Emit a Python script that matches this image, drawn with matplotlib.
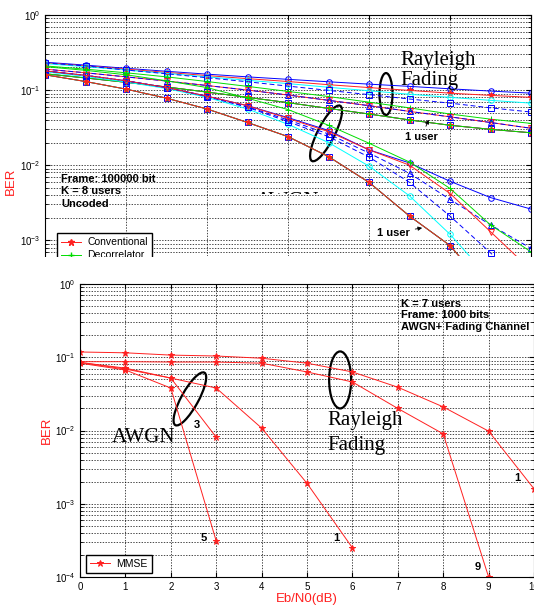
import numpy as np
import matplotlib
matplotlib.use('Agg')
import matplotlib.pyplot as plt
from matplotlib.patches import Ellipse, Rectangle
from matplotlib.transforms import ScaledTranslation, Bbox, TransformedBbox

plt.rcParams['font.family'] = ['Liberation Sans', 'DejaVu Sans']
plt.rcParams['mathtext.default'] = 'regular'

# ---- top panel: K = 8 users, uncoded, frame 100000 bit ----
snr_top = np.arange(0, 13)

# Rayleigh fading curves
ray_blue_o = [0.235, 0.215, 0.195, 0.178, 0.163, 0.150, 0.139, 0.129, 0.120, 0.112, 0.104, 0.097, 0.091]
ray_red = [0.23, 0.21, 0.19, 0.172, 0.156, 0.142, 0.130, 0.118, 0.108, 0.099, 0.091, 0.085, 0.080]
ray_cyan = [0.225, 0.205, 0.185, 0.167, 0.150, 0.135, 0.122, 0.109, 0.098, 0.088, 0.080, 0.073, 0.067]
ray_blue_sq = [0.23, 0.21, 0.185, 0.165, 0.146, 0.129, 0.113, 0.099, 0.087, 0.076, 0.067, 0.058, 0.051]
ray_green = [0.21, 0.19, 0.17, 0.15, 0.13, 0.112, 0.096, 0.082, 0.069, 0.058, 0.048, 0.041, 0.036]
ray_tri = [0.19, 0.17, 0.15, 0.132, 0.115, 0.10, 0.086, 0.073, 0.062, 0.052, 0.044, 0.037, 0.031]
ray_1user = [0.165, 0.145, 0.127, 0.11, 0.094, 0.08, 0.068, 0.057, 0.048, 0.040, 0.034, 0.030, 0.027]

# AWGN curves
awgn_1user = [0.16, 0.13, 0.103, 0.078, 0.056, 0.037, 0.024, 0.013, 0.0059, 0.0021, 0.00085, 0.0002, 0.00004]
awgn_cyan = [0.175, 0.152, 0.128, 0.105, 0.08, 0.056, 0.035, 0.020, 0.0097, 0.0039, 0.0012, 0.0003, 0.00006]
awgn_blue_o = [0.18, 0.157, 0.133, 0.108, 0.083, 0.062, 0.043, 0.029, 0.016, 0.0107, 0.0061, 0.0037, 0.0026]
awgn_green = [0.205, 0.183, 0.16, 0.133, 0.108, 0.078, 0.055, 0.034, 0.0196, 0.011, 0.0049, 0.0016, 0.0007]
awgn_red_v = [0.18, 0.157, 0.133, 0.108, 0.083, 0.062, 0.042, 0.028, 0.016, 0.010, 0.0042, 0.0013, 0.0004]
awgn_blue_tri = [0.18, 0.157, 0.133, 0.108, 0.083, 0.06, 0.04, 0.026, 0.0145, 0.0078, 0.0035, 0.0016, 0.00078]
awgn_blue_sq = [0.18, 0.157, 0.133, 0.108, 0.082, 0.059, 0.038, 0.024, 0.0128, 0.0059, 0.0021, 0.00068, 0.0002]

top_labels = ['Conventional', 'Decorrelator']

# ---- bottom panel: K = 7 users, MMSE, frame 1000 bits ----
snr_bot = np.arange(0, 11)
mmse_ray_1 = [0.118, 0.115, 0.107, 0.104, 0.097, 0.083, 0.063, 0.039, 0.021, 0.0098, 0.0016]
mmse_ray_9 = [0.087, 0.087, 0.086, 0.086, 0.083, 0.063, 0.046, 0.020, 0.0090, 0.0001]
mmse_awgn_1 = [0.085, 0.071, 0.052, 0.038, 0.0108, 0.0019, 0.00025]
mmse_awgn_3 = [0.085, 0.069, 0.052, 0.0081]
mmse_awgn_5 = [0.083, 0.067, 0.038, 0.00031]

W, H = 534, 607
fig = plt.figure(figsize=(W / 100, H / 100), dpi=100)


def px_axes(l, t, r, b):
    return fig.add_axes([l / W, 1 - b / H, (r - l) / W, (b - t) / H])


ax1 = px_axes(45, 15, 531, 256)
ax2 = px_axes(80, 284, 534, 577)
ax1.set_zorder(1)
ax2.set_zorder(2)

GRID = dict(color='k', linestyle=(0, (2, 2)), linewidth=0.5)
RED = '#ff2020'


def curve(ax, x, y, color, marker, ls='-', filled=False, label=None):
    ax.semilogy(x[:len(y)], y, color=color, ls=ls, lw=0.7, marker=marker,
                ms=4.5 if marker in '*+' else 4, mfc=color if filled else 'none',
                mec=color, mew=0.7, label=label)


def ellipse(ax, x, y, w, h, ang):
    tr = fig.dpi_scale_trans + ScaledTranslation(x, y, ax.transData)
    ax.add_patch(Ellipse((0, 0), w / 100, h / 100, angle=ang, transform=tr,
                         fill=False, ec='k', lw=1.6, clip_on=False))


# ---------------- top panel ----------------
x = snr_top
curve(ax1, x, ray_blue_o, 'blue', 'o')
curve(ax1, x, ray_red, RED, '*', filled=True)
curve(ax1, x, ray_cyan, 'cyan', 'o')
curve(ax1, x, ray_blue_sq, 'blue', 's', ls=(0, (5, 3)))
curve(ax1, x, ray_green, '#00dd00', '+')
curve(ax1, x, ray_tri, RED, 'v')
curve(ax1, x, ray_tri, 'blue', '^', ls=(0, (5, 3)))
curve(ax1, x, ray_1user, 'blue', 's')
curve(ax1, x, ray_1user, RED, '*', filled=True)
curve(ax1, x, ray_1user, '#00dd00', '+')

curve(ax1, x, awgn_blue_o, 'blue', 'o')
curve(ax1, x, awgn_cyan, 'cyan', 'o')
curve(ax1, x, awgn_blue_sq, 'blue', 's', ls=(0, (5, 3)))
curve(ax1, x, awgn_blue_tri, 'blue', '^', ls=(0, (5, 3)))
curve(ax1, x, awgn_red_v, RED, 'v')
curve(ax1, x, awgn_green, '#00dd00', '+')
curve(ax1, x, awgn_1user, 'blue', 's')
curve(ax1, x, awgn_1user, '#00dd00', '+')
curve(ax1, x, awgn_1user, RED, '*', filled=True)

ax1.set_xlim(0, 12)
ax1.set_ylim(10 ** -3.21, 1)
ax1.set_xticks(range(0, 13, 2))
ax1.tick_params(labelbottom=False, bottom=False)
ax1.spines['bottom'].set_visible(False)
ax1.grid(True, which='both', **GRID)
ax1.set_ylabel('BER', color=RED, fontsize=9.5)
ax1.yaxis.set_label_coords(-0.058, 0.31)

h1 = ax1.plot([], [], color=RED, marker='*', lw=0.7, ms=5)[0]
h2 = ax1.plot([], [], color='#00dd00', marker='+', lw=0.7, ms=5)[0]
ax1.legend([h1, h2], top_labels, loc='upper left', bbox_to_anchor=(0.0247, 0.0954),
           borderaxespad=0, fancybox=False, edgecolor='k', framealpha=1,
           fontsize=7.5, handlelength=1.9, handletextpad=0.6, labelspacing=0.3)

ax1.text(0.033, 0.34, 'Frame: 100000 bit\nK = 8 users\nUncoded', transform=ax1.transAxes,
         fontsize=8, fontweight='bold', va='top', ha='left', linespacing=1.3)
ax1.text(8.77, 10 ** -0.48, 'Rayleigh\nFading', family='Liberation Serif', fontsize=15,
         va='top', ha='left', linespacing=1.05)
ax1.annotate('1 user', xy=(9.5, 10 ** -1.36), xytext=(9.3, 10 ** -1.62), fontsize=8,
             fontweight='bold', ha='center', va='center',
             arrowprops=dict(arrowstyle='-|>', lw=0.6, color='k', mutation_scale=6))
ax1.annotate('1 user', xy=(9.38, 10 ** -2.83), xytext=(8.6, 10 ** -2.9), fontsize=8,
             fontweight='bold', ha='center', va='center',
             arrowprops=dict(arrowstyle='-|>', lw=0.6, color='k', mutation_scale=6))
t = ax1.text(6.0, 10 ** -2.49, 'AWGN', family='Liberation Serif', fontsize=15,
             ha='center', va='center')
t.set_clip_box(TransformedBbox(Bbox([[2.4, (H - 193.5) / 100], [3.5, (H - 189.5) / 100]]),
                               fig.dpi_scale_trans))
t.set_clip_on(True)
ellipse(ax1, 8.42, 0.0885, 13, 42, 0)
ellipse(ax1, 6.94, 0.0265, 62, 17, 63)

# white band where the top picture was cut off
fig.add_artist(Rectangle((0, 1 - 283 / H), 1, 26 / H, transform=fig.transFigure,
                         facecolor='white', edgecolor='none', zorder=1.5))

# ---------------- bottom panel ----------------
xb = snr_bot
curve(ax2, xb, mmse_ray_1, RED, '*', filled=True, label='MMSE')
curve(ax2, xb, mmse_ray_9, RED, '*', filled=True)
curve(ax2, xb, mmse_awgn_1, RED, '*', filled=True)
curve(ax2, xb, mmse_awgn_3, RED, '*', filled=True)
curve(ax2, xb, mmse_awgn_5, RED, '*', filled=True)

ax2.set_xlim(0, 10)
ax2.set_ylim(1e-4, 1)
ax2.set_xticks(range(0, 11))
ax2.grid(True, which='both', **GRID)
ax2.set_ylabel('BER', color=RED, fontsize=9.5)
ax2.yaxis.set_label_coords(-0.06, 0.5)
ax2.set_xlabel('Eb/N0(dB)', color=RED, fontsize=9.5)
ax2.xaxis.set_label_coords(0.5, -0.055)
ax2.legend(loc='lower left', bbox_to_anchor=(0.013, 0.014), borderaxespad=0,
           fancybox=False, edgecolor='k', framealpha=1, fontsize=7.5,
           handlelength=1.9, handletextpad=0.6)

ax2.text(0.707, 0.95, 'K = 7 users\nFrame: 1000 bits\nAWGN+ Fading Channel',
         transform=ax2.transAxes, fontsize=8, fontweight='bold', va='top', ha='left',
         linespacing=1.2)
ax2.text(1.39, 10 ** -2.1, 'AWGN', family='Liberation Serif', fontsize=15,
         ha='center', va='center')
ax2.text(5.44, 10 ** -1.74, 'Rayleigh\nFading', family='Liberation Serif', fontsize=15,
         ha='left', va='top', linespacing=1.4)
for lab, lx, ly in [('3', 2.58, -1.925), ('5', 2.73, -3.47), ('1', 5.64, -3.47),
                    ('9', 8.77, -3.86), ('1', 9.63, -2.65)]:
    ax2.text(lx, 10 ** ly, lab, fontsize=8, fontweight='bold', ha='center', va='center')
ellipse(ax2, 2.42, 0.027, 60, 17, 61)
ellipse(ax2, 5.73, 0.049, 22, 57, 0)

for ax in (ax1, ax2):
    ax.set_facecolor('white')
    ax.tick_params(which='both', direction='in', top=True, right=True, labelsize=7)
    ax.tick_params(which='minor', length=2)
    for s in ax.spines.values():
        s.set_linewidth(0.8)

fig.savefig('out.png', dpi=100, facecolor='white')
